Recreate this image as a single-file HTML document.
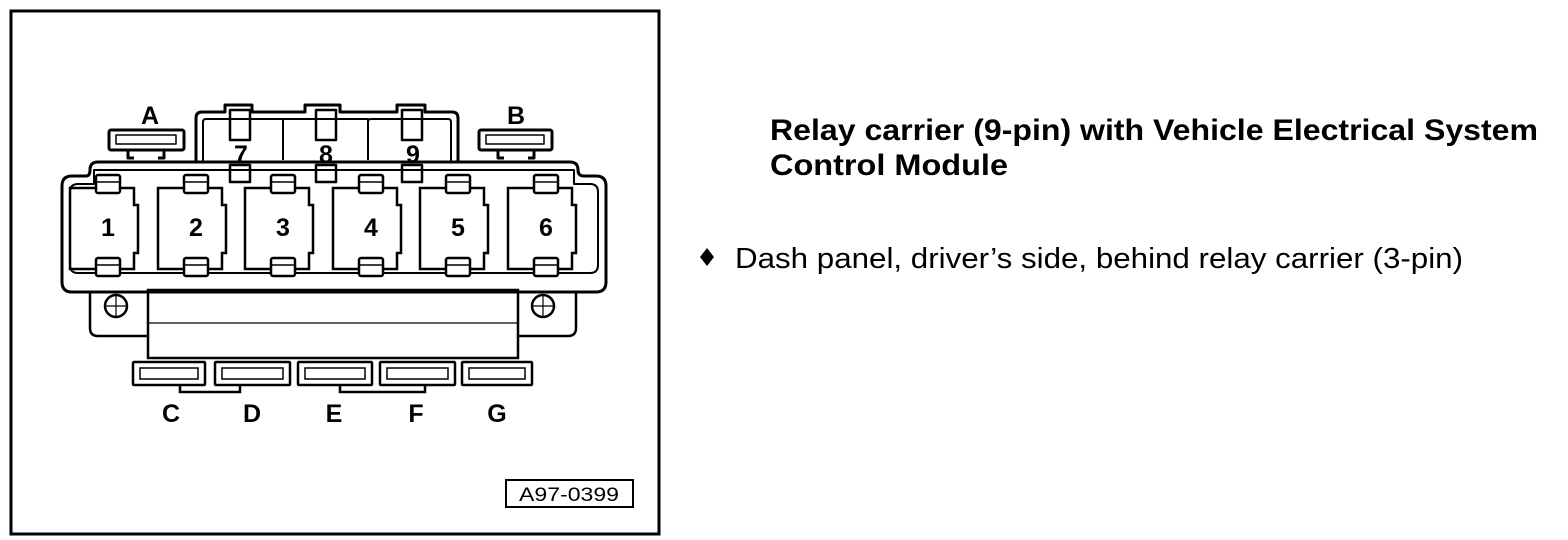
<!DOCTYPE html>
<html><head><meta charset="utf-8"><style>
html,body{margin:0;padding:0;background:#fff;width:1568px;height:540px;overflow:hidden}
svg{display:block}
text{font-family:"Liberation Sans",sans-serif}
</style></head><body>
<svg width="1568" height="540" viewBox="0 0 1568 540" xmlns="http://www.w3.org/2000/svg">
<rect x="11" y="11" width="648" height="523" fill="none" stroke="#000" stroke-width="3"/>
<g fill="none" stroke="#000" stroke-width="3" stroke-linejoin="round">
 <path d="M196 162 V118 Q196 112 202 112 H225 V105 H252 V112 H305 V105 H340 V112 H397 V105 H425 V112 H452 Q458 112 458 118 V162"/>
 <path d="M203 162 V122 Q203 119 206 119 H283 V160 M283 119 H368 V160 M368 122 Q368 119 371 119 H448 Q451 119 451 122 V162" stroke-width="2"/>
 <rect x="230" y="110" width="20" height="30" stroke-width="2.5"/>
 <rect x="316" y="110" width="20" height="30" stroke-width="2.5"/>
 <rect x="402" y="110" width="20" height="30" stroke-width="2.5"/>
 <rect x="230" y="165" width="20" height="17" stroke-width="2.5"/>
 <rect x="316" y="165" width="20" height="17" stroke-width="2.5"/>
 <rect x="402" y="165" width="20" height="17" stroke-width="2.5"/>
 <rect x="109" y="130" width="75" height="20" rx="2"/>
 <rect x="116" y="135" width="60" height="9" stroke-width="1.5"/>
 <path d="M128 150 V158 H134 M158 158 H164 V150"/>
 <rect x="479" y="130" width="73" height="20" rx="2"/>
 <rect x="486" y="135" width="58" height="9" stroke-width="1.5"/>
 <path d="M498 150 V158 H504 M528 158 H534 V150"/>
 <path d="M72 292 Q62 292 62 282 V186 Q62 176 72 176 H86 Q90 176 90 170 Q90 162 98 162 H570 Q578 162 578 170 Q578 176 584 176 H596 Q606 176 606 186 V282 Q606 292 596 292 Z"/>
 <path d="M78 273 Q70 273 70 265 V192 Q70 184 78 184 H94 V170 H574 V184 H590 Q598 184 598 192 V265 Q598 273 590 273 Z" stroke-width="2"/>
</g>
<g fill="none" stroke="#000" stroke-width="2.5">
 <g id="c"><path d="M70 188 H134 V205 H138 V253 H134 V269 H70 Z"/>
 <rect x="96" y="175" width="24" height="18" rx="2" fill="#fff"/><rect x="96" y="258" width="24" height="18" rx="2" fill="#fff"/>
 <line x1="97" y1="182" x2="119" y2="182" stroke-width="1.5"/><line x1="97" y1="265" x2="119" y2="265" stroke-width="1.5"/></g>
 <use href="#c" x="88"/><use href="#c" x="175"/><use href="#c" x="263"/><use href="#c" x="350"/><use href="#c" x="438"/>
 <path d="M148 292 H90 V328 Q90 336 98 336 H148"/>
 <path d="M518 292 H576 V328 Q576 336 568 336 H518"/>
 <circle cx="116" cy="306" r="11"/><circle cx="543" cy="306" r="11"/>
 <rect x="148" y="290" width="370" height="68"/>
</g>
<g stroke="#000" stroke-width="1.2">
 <line x1="116" y1="295" x2="116" y2="317"/><line x1="105" y1="306" x2="127" y2="306"/>
 <line x1="543" y1="295" x2="543" y2="317"/><line x1="532" y1="306" x2="554" y2="306"/>
 <line x1="148" y1="323" x2="518" y2="323"/>
</g>
<g fill="none" stroke="#000" stroke-width="2.5">
 <rect x="133" y="362" width="72" height="23" rx="1"/><rect x="140" y="368" width="58" height="11" stroke-width="1.5"/>
 <rect x="215" y="362" width="75" height="23" rx="1"/><rect x="222" y="368" width="61" height="11" stroke-width="1.5"/>
 <rect x="298" y="362" width="74" height="23" rx="1"/><rect x="305" y="368" width="60" height="11" stroke-width="1.5"/>
 <rect x="380" y="362" width="75" height="23" rx="1"/><rect x="387" y="368" width="61" height="11" stroke-width="1.5"/>
 <rect x="462" y="362" width="70" height="23" rx="1"/><rect x="469" y="368" width="56" height="11" stroke-width="1.5"/>
 <path d="M180 385 V392 H240 V385 M340 385 V392 H425 V385"/>
</g>
<g font-weight="bold" font-size="25" text-anchor="middle">
 <text x="150" y="124">A</text><text x="516" y="124">B</text>
 <text x="241" y="163">7</text><text x="326" y="163">8</text><text x="413" y="163">9</text>
 <text x="108" y="236">1</text><text x="196" y="236">2</text><text x="283" y="236">3</text>
 <text x="371" y="236">4</text><text x="458" y="236">5</text><text x="546" y="236">6</text>
 <text x="171" y="422">C</text><text x="252" y="422">D</text><text x="334" y="422">E</text>
 <text x="416" y="422">F</text><text x="497" y="422">G</text>
</g>
<rect x="506" y="480" width="127" height="27" fill="none" stroke="#000" stroke-width="2"/>
<text x="569" y="501" font-size="19" text-anchor="middle" textLength="100" lengthAdjust="spacingAndGlyphs">A97-0399</text>
<text x="770" y="140" font-size="30" font-weight="bold" textLength="768" lengthAdjust="spacingAndGlyphs">Relay carrier (9-pin) with Vehicle Electrical System</text>
<text x="770" y="175" font-size="30" font-weight="bold" textLength="238" lengthAdjust="spacingAndGlyphs">Control Module</text>
<path d="M707 248 L714 257 L707 266 L700 257 Z" fill="#000"/>
<text x="735" y="268" font-size="29" textLength="728" lengthAdjust="spacingAndGlyphs">Dash panel, driver’s side, behind relay carrier (3-pin)</text>
</svg>
</body></html>
